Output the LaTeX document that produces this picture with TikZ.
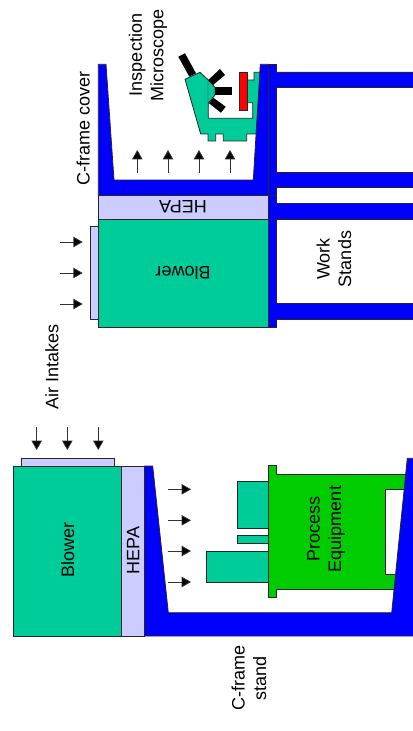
\documentclass[tikz,border=0pt]{standalone}
\usepackage{fontspec}
\setmainfont{Liberation Sans}
\usetikzlibrary{arrows.meta}
\definecolor{frameblue}{RGB}{0,0,255}
\definecolor{blowerteal}{RGB}{0,204,153}
\definecolor{hepalilac}{RGB}{204,204,255}
\definecolor{procgreen}{RGB}{0,204,0}
\begin{document}
\begin{tikzpicture}[
      x=0.75pt, y=-0.75pt,
      font=\fontsize{13.5pt}{16.2pt}\selectfont,
      part/.style={draw=black!85, line width=0.6pt, line join=miter},
      cframe/.style={part, fill=frameblue},
      blowerbox/.style={part, fill=blowerteal},
      hepabox/.style={part, fill=hepalilac},
      procbox/.style={part, fill=procgreen},
      optic/.style={fill=black},
      airflow/.style={-{Triangle[length=7pt,width=7.8pt,fill=black]}, line width=0.6pt, black!80},
      lbl/.style={rotate=90, align=center, inner sep=0pt},
      lblflip/.style={rotate=180, align=center, inner sep=0pt}
    ]
    \useasboundingbox (0,0) rectangle (413,731);
    % ---------------- upper unit: microscope under the cover ----------------
    \draw[blowerbox] (185,79.3) -- (200,72.3) -- (208.3,80) -- (208.3,118.3) -- (252.7,118.3)
      -- (252.7,102.7) -- (246.7,102.7) -- (246.7,80) -- (254,80) -- (254,72.3) -- (262,72.3)
      -- (256,134) -- (246.7,134) -- (246.7,141) -- (223.3,141) -- (223.3,134) -- (215.7,134)
      -- (215.7,141) -- (208,141) -- (208,134) -- (200.7,134) -- cycle;
    \draw[blowerbox] (208.3,80) -- (215,87.3) -- (215,95) -- (208.3,103.3);
    \fill[optic] (178.3,56.7) -- (185,53.3) -- (196,73.3) -- (189.3,76.7) -- cycle;
    \fill[optic] (220,69) -- (225,75) -- (213,85) -- (208.3,80) -- cycle;
    \fill[optic] (215,87.3) rectangle (232,95.3);
    \fill[optic] (221,112.7) -- (225.7,106.7) -- (213.3,97.7) -- (209,103.3) -- cycle;
    \draw[part, fill=red] (239.3,72.3) rectangle (247,110.7);
    % ---------------- upper unit: cover and stands ----------------
    \draw[cframe] (98.3,64.3) -- (106,64.3) -- (114,180) -- (253.3,180) -- (260.3,64.3)
      -- (268.3,64.3) -- (268.3,195.7) -- (98.3,195.7) -- cycle;
    \draw[cframe] (268.3,64.3) -- (276.3,64.3) -- (276.3,72) -- (414,72) -- (414,87.7)
      -- (276.3,87.7) -- (276.3,172.3) -- (414,172.3) -- (414,187.7) -- (276.3,187.7)
      -- (276.3,195.7) -- (268.3,195.7) -- cycle;
    \draw[cframe] (268.3,195.7) -- (276.3,195.7) -- (276.3,203.3) -- (414,203.3) -- (414,219)
      -- (276.3,219) -- (276.3,303.3) -- (414,303.3) -- (414,319.3) -- (276.3,319.3)
      -- (276.3,327) -- (268.3,327) -- cycle;
    \draw[hepabox] (98.3,195.7) rectangle (268.3,219);
    \draw[blowerbox] (98.3,219) rectangle (268.3,327);
    \draw[hepabox] (90.3,226.7) rectangle (98.3,319.3);
    \node[lblflip] (hepatop) at (183,207) {HEPA};
    \node[lblflip] (blowertop) at (183,272.7) {Blower};
    % ---------------- lower unit ----------------
    \draw[procbox] (268.3,465.7) -- (276.3,465.7) -- (276.3,474) -- (410,474) -- (410,489)
      -- (385.3,489) -- (385.3,574.3) -- (410,574.3) -- (410,589.3) -- (276.3,589.3)
      -- (276.3,597.7) -- (268.3,597.7) -- cycle;
    \draw[blowerbox] (237.3,481.3) rectangle (268.3,528);
    \draw[blowerbox] (237.3,535.7) rectangle (268.3,543.3);
    \draw[blowerbox] (206.7,551) rectangle (268.3,582);
    \draw[cframe] (144.7,466) -- (152.7,466) -- (168.3,612.7) -- (391.7,612.7) -- (407.3,458.3)
      -- (414,458.3) -- (414,636) -- (144.7,636) -- cycle;
    \draw[hepabox] (121.7,466) rectangle (144.7,636);
    \draw[blowerbox] (13.3,466) rectangle (121.7,636);
    \draw[hepabox] (21,458.3) rectangle (114,466);
    % ---------------- air flow ----------------
    \foreach \ypos in {242,273,304}
      \draw[airflow] (60,\ypos) -- (82.7,\ypos);
    \foreach \xpos in {137.3,168,199,230}
      \draw[airflow] (\xpos,172.7) -- (\xpos,150);
    \foreach \xpos in {36.7,67.3,98.3}
      \draw[airflow] (\xpos,427.3) -- (\xpos,450);
    \foreach \ypos in {489.3,520.3,551,582}
      \draw[airflow] (167.7,\ypos) -- (191,\ypos);
    % ---------------- labels ----------------
    \node[lbl] (coverlbl) at (83.3,128) {C-frame cover};
    \node[lbl] (scopelbl) at (148,55) {Inspection\\Microscope};
    \node[lbl] (intakelbl) at (52,367) {Air Intakes};
    \node[lbl] (standslbl) at (334,259) {Work\\Stands};
    \node[lbl] (blowerlbl) at (67.7,550) {Blower};
    \node[lbl] (hepalbl) at (133.3,550.7) {HEPA};
    \node[lbl] (proclbl) at (326,529) {Process\\Equipment};
    \node[lbl] (standlbl) at (249,678) {C-frame\\stand};
  \end{tikzpicture}
\end{document}
